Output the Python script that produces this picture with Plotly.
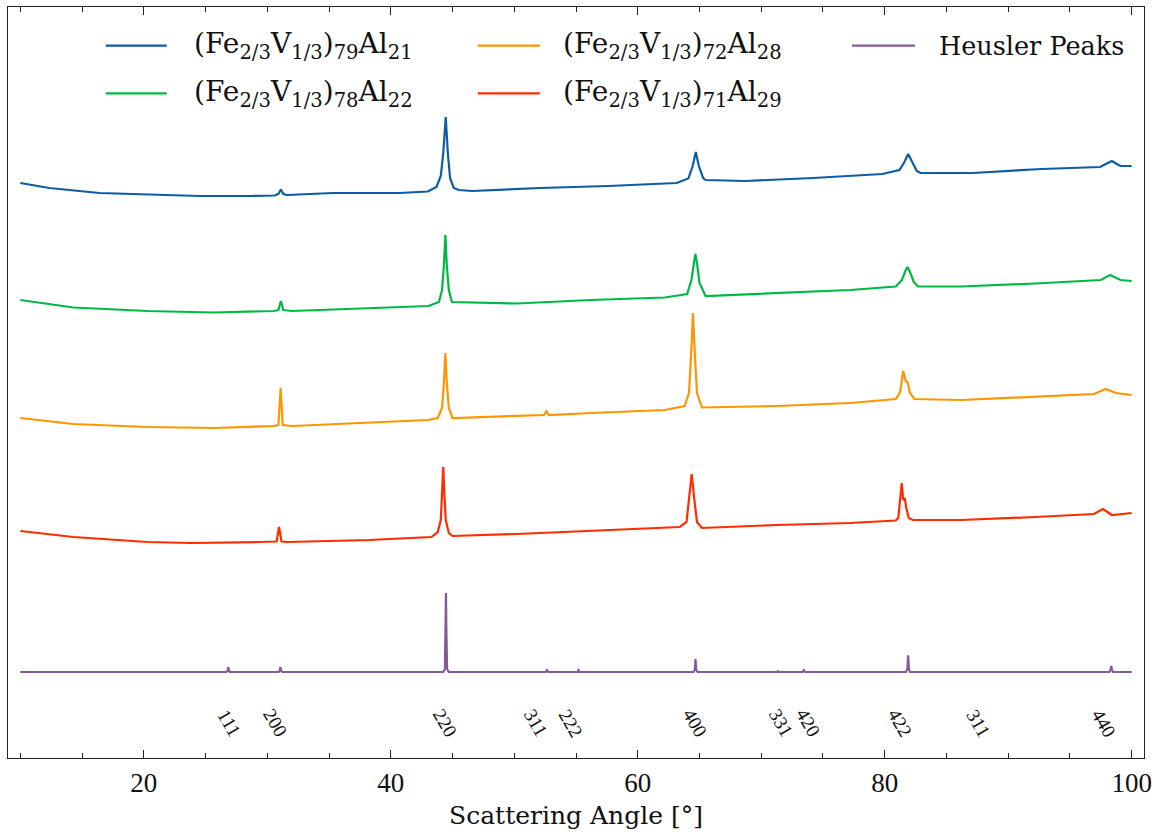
import plotly.graph_objects as go

# ---------------------------------------------------------------------------
# Powder XRD patterns of (Fe2/3 V1/3)100-x Al_x, stacked with vertical offsets
# (intensity in arbitrary units, offsets already included)
# ---------------------------------------------------------------------------

two_theta_x21 = [10.0, 12.35, 16.4, 19.1, 24.5, 28.6, 30.6, 30.9, 31.1, 31.3, 31.6,
                 35.3, 40.7, 43.0, 43.7, 44.05, 44.25, 44.45, 44.62, 44.8, 45.1, 45.5,
                 46.6, 52.1, 57.6, 63.15, 64.1, 64.45, 64.7, 64.95, 65.3, 65.5, 68.7,
                 74.2, 79.8, 81.2, 81.6, 81.9, 82.2, 82.6, 82.9, 87.1, 92.7, 97.45,
                 97.9, 98.4, 98.8, 99.1, 100.0]
counts_x21 = [575, 570, 565, 564, 562, 562, 562.5, 564, 568.5, 564, 563,
              565, 565, 566.5, 571, 582, 605, 641, 605, 580, 570, 568,
              567, 570, 572, 575, 579.5, 592, 606, 592, 580, 578, 577,
              580, 584, 588, 596, 604, 596, 587, 585, 585, 589, 591,
              594, 597, 594, 592, 592]

two_theta_x22 = [10.0, 14.3, 20.3, 25.65, 30.5, 30.9, 31.1, 31.3, 32.0, 38.25, 43.05,
                 43.9, 44.15, 44.3, 44.42, 44.54, 44.7, 44.95, 50.2, 56.2, 62.2, 64.0,
                 64.35, 64.55, 64.67, 64.8, 65.0, 65.5, 71.2, 77.2, 80.9, 81.4, 81.7,
                 81.85, 82.05, 82.35, 82.7, 86.2, 92.2, 97.5, 98.25, 99.1, 100.0]
counts_x22 = [458, 450.5, 447, 445.5, 447, 448, 457, 448, 447, 449.5, 452,
              456, 468, 492, 523, 492, 468, 456, 454.5, 458, 460.5, 464,
              478, 495, 504, 495, 475, 462, 465, 468, 471.5, 478, 488,
              491, 486, 476, 471.5, 471.5, 474.5, 478, 483, 478, 477]

two_theta_x28 = [10.0, 14.3, 20.3, 25.65, 30.5, 30.9, 31.08, 31.25, 32.0, 38.25, 43.05,
                 43.8, 44.15, 44.3, 44.42, 44.54, 44.7, 45.0, 50.2, 52.4, 52.6, 52.8,
                 56.2, 62.2, 63.8, 64.15, 64.35, 64.47, 64.6, 64.8, 65.2, 71.2, 77.2,
                 80.9, 81.25, 81.5, 81.7, 81.85, 82.05, 82.4, 86.2, 92.2, 96.95, 97.9,
                 98.75, 100.0]
counts_x28 = [340, 334, 331, 330, 332, 333, 370, 333, 332, 335, 338,
              340, 350, 375, 405, 375, 350, 340, 342, 343, 347, 343,
              345, 348, 352, 365, 410, 445, 410, 365, 350.5, 352, 355,
              359, 366, 387, 377, 376, 365, 359, 358, 361, 364, 369,
              365, 363]

two_theta_x29 = [10.0, 14.3, 20.3, 23.9, 29.3, 30.75, 30.95, 31.15, 31.65, 38.25, 43.3,
                 43.8, 44.05, 44.15, 44.25, 44.35, 44.45, 44.7, 45.0, 50.2, 56.2, 63.4,
                 63.95, 64.2, 64.37, 64.55, 64.8, 65.2, 71.2, 77.2, 80.9, 81.1, 81.25,
                 81.38, 81.5, 81.62, 81.75, 81.95, 82.3, 86.2, 92.2, 96.95, 97.67,
                 98.4, 100.0]
counts_x29 = [227, 221, 216, 215, 216, 216.5, 231, 216.5, 216, 218, 221,
              226, 238, 262, 291, 262, 238, 225, 222, 224, 227, 231,
              236, 262, 284, 262, 236, 230, 233, 235, 237.5, 240, 258,
              275, 258, 260, 250, 240, 238, 238, 241, 244, 249,
              243, 245]

# Calculated L2_1 Heusler reflections (Cu K-alpha)
two_theta_heusler = [10.0,
                     26.7, 26.79, 26.84, 26.89, 26.98,
                     30.92, 31.01, 31.06, 31.11, 31.2,
                     44.25, 44.38, 44.44, 44.47, 44.5, 44.56, 44.69,
                     52.55, 52.65, 52.75,
                     55.1, 55.2, 55.3,
                     64.52, 64.62, 64.68, 64.74, 64.84,
                     71.25, 71.35, 71.45,
                     73.35, 73.45, 73.55,
                     81.74, 81.84, 81.9, 81.96, 82.06,
                     87.95, 88.05, 88.15,
                     98.2, 98.29, 98.35, 98.41, 98.5,
                     100.0]
counts_heusler = [86,
                  86, 87.5, 91, 87.5, 86,
                  86, 87.5, 91, 87.5, 86,
                  86, 89, 130, 165, 130, 89, 86,
                  86, 88, 86,
                  86, 88, 86,
                  86, 88, 99, 88, 86,
                  86, 86.7, 86,
                  86, 88, 86,
                  86, 89, 102.7, 89, 86,
                  86, 86.5, 86,
                  86, 88, 92, 88, 86,
                  86]

# Miller-index labels under the reference pattern
hkl_labels = ["111", "200", "220", "311", "222", "400", "331", "420", "422", "311", "440"]
hkl_label_pos = [26.96, 30.7, 44.45, 51.8, 54.6, 64.7, 71.67, 73.86, 81.3, 87.62, 97.78]
hkl_label_height = 35

series_names = [
    "(Fe<sub>2/3</sub>V<sub>1/3</sub>)<sub>79</sub>Al<sub>21</sub>",
    "(Fe<sub>2/3</sub>V<sub>1/3</sub>)<sub>78</sub>Al<sub>22</sub>",
    "(Fe<sub>2/3</sub>V<sub>1/3</sub>)<sub>72</sub>Al<sub>28</sub>",
    "(Fe<sub>2/3</sub>V<sub>1/3</sub>)<sub>71</sub>Al<sub>29</sub>",
    "Heusler Peaks",
]
series_colors = ["#0C5DA5", "#00B945", "#FF9500", "#FF2C00", "#845B97"]
series_x = [two_theta_x21, two_theta_x22, two_theta_x28, two_theta_x29, two_theta_heusler]
series_y = [counts_x21, counts_x22, counts_x28, counts_x29, counts_heusler]

NUM_FONT = "Liberation Serif"
TEXT_FONT = "DejaVu Serif"
INK = "#111111"

fig = go.Figure()
for name, color, xs, ys in zip(series_names, series_colors, series_x, series_y):
    fig.add_trace(go.Scatter(
        x=xs, y=ys, mode="lines", name=name,
        line=dict(color=color, width=2.2),
        showlegend=False,
    ))

# Rotated hkl labels
for lab, pos in zip(hkl_labels, hkl_label_pos):
    fig.add_annotation(
        x=pos, y=hkl_label_height, xref="x", yref="y",
        text=lab, showarrow=False, textangle=60,
        xanchor="center", yanchor="middle",
        font=dict(family=NUM_FONT, size=19, color=INK),
    )

# Legend: three columns, filled column by column
legend_cols = [(0.0860, 0.1397, 0.1618), (0.4136, 0.4682, 0.4867), (0.7429, 0.7984, 0.8177)]
legend_rows = [0.9485, 0.8851]
for i, (name, color) in enumerate(zip(series_names, series_colors)):
    x0, x1, xt = legend_cols[i // 2]
    yy = legend_rows[i % 2]
    fig.add_shape(type="line", xref="paper", yref="paper",
                  x0=x0, x1=x1, y0=yy, y1=yy,
                  line=dict(color=color, width=2.2))
    fig.add_annotation(
        x=xt, y=yy, xref="paper", yref="paper",
        text=name, showarrow=False, xanchor="left", yanchor="middle",
        font=dict(family=TEXT_FONT, size=28 if "<sub>" in name else 25.5, color=INK),
    )

fig.update_layout(
    width=1159, height=836,
    margin=dict(l=8, r=15, t=7, b=78),
    paper_bgcolor="white", plot_bgcolor="white",
    font=dict(family=NUM_FONT, color=INK),
    showlegend=False,
)
fig.update_xaxes(
    range=[9, 101],
    tickmode="array", tickvals=[20, 40, 60, 80, 100],
    ticks="inside", ticklen=8, tickwidth=1, tickcolor="#222222",
    minor=dict(tickmode="array", tickvals=[10, 15, 25, 30, 35, 45, 50, 55, 65, 70, 75, 85, 90, 95],
               ticks="inside", ticklen=4.5, tickwidth=1, tickcolor="#222222"),
    showline=True, linecolor="#222222", linewidth=1.2, mirror="allticks",
    showgrid=False, zeroline=False,
    tickfont=dict(family=NUM_FONT, size=27, color=INK),
    title=dict(text="Scattering Angle [°]", font=dict(family=TEXT_FONT, size=25, color=INK),
               standoff=9),
)
fig.update_yaxes(
    range=[0, 751],
    showticklabels=False, ticks="",
    showline=True, linecolor="#222222", linewidth=1.2, mirror=True,
    showgrid=False, zeroline=False,
)

fig.write_html("out.html")
